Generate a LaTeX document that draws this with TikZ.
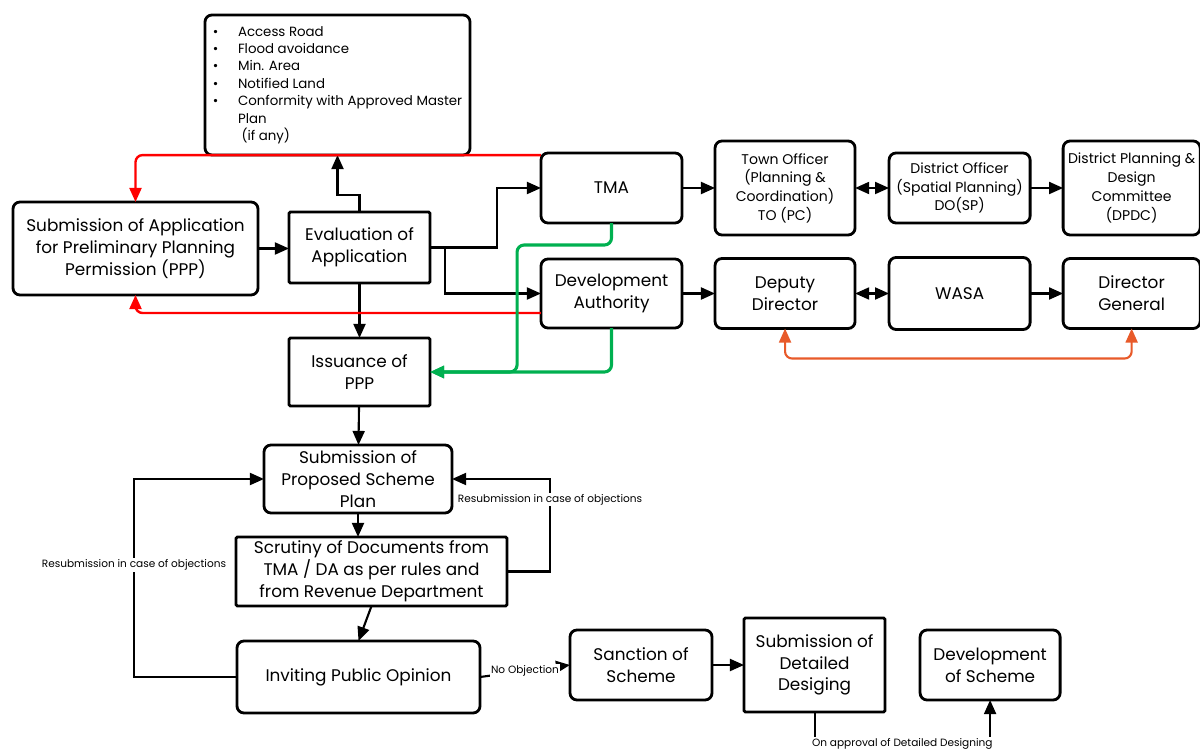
\documentclass[tikz,border=0pt]{standalone}
\usepackage{fontspec}
\setmainfont{Poppins}
\usetikzlibrary{positioning}
\usetikzlibrary{arrows.meta}
\definecolor{linered}{HTML}{FF0000}
\definecolor{linegreen}{HTML}{00B050}
\definecolor{lineorange}{HTML}{E85A2A}

\begin{document}
\begin{tikzpicture}[x=0.025cm, y=-0.025cm,
    box/.style={draw, line width=2pt, rounded corners=5pt, align=center,
      inner sep=1pt, outer sep=0pt, font=\fontsize{12}{15.5}\selectfont},
    sqbox/.style={box, rounded corners=1pt},
    small/.style={font=\fontsize{10}{13.3}\selectfont},
    flow/.style={line width=1.5pt, -{Triangle[length=10pt, width=8.5pt]}},
    dflow/.style={line width=1.5pt, {Triangle[length=10pt, width=8.5pt]}-{Triangle[length=10pt, width=8.5pt]}},
    redflow/.style={flow, linered, line width=1.7pt, rounded corners=5pt},
    greenflow/.style={flow, linegreen, line width=2.2pt, rounded corners=5pt},
    orangeflow/.style={dflow, lineorange, rounded corners=5pt},
    lbl/.style={fill=white, inner sep=1pt, font=\fontsize{7.5}{9}\selectfont}]
    \useasboundingbox (0,0) rectangle (1200,753);

    \node[box, minimum width=6.625cm, minimum height=3.5cm, font=\fontsize{9.5}{12.4}\selectfont] (crit) at (337.5,85) {%
      \begin{tabular}{@{}l@{\hspace{14pt}}l@{}}
        \textbullet & Access Road\\
        \textbullet & Flood avoidance\\
        \textbullet & Min. Area\\
        \textbullet & Notified Land\\
        \textbullet & Conformity with Approved Master\\
                    & Plan\\
                    & \ (if any)
      \end{tabular}};
    \node[box, minimum width=6.125cm, minimum height=2.325cm] (app) at (135.5,248.5) {Submission of Application\\for Preliminary Planning\\Permission (PPP)};
    \node[sqbox, minimum width=3.525cm, minimum height=1.775cm] (eval) at (359.5,247.5) {Evaluation of\\Application};
    \node[box, minimum width=3.525cm, minimum height=1.75cm] (tma) at (611.5,188) {TMA};
    \node[box, minimum width=3.525cm, minimum height=1.725cm] (da) at (611.5,293.5) {Development\\Authority};
    \node[box, small, minimum width=3.5cm, minimum height=2.35cm, right=0.825cm of tma] (to) {Town Officer\\(Planning \&\\Coordination)\\TO (PC)};
    \node[box, small, minimum width=3.525cm, minimum height=1.75cm, right=0.85cm of to] (dosp) {District Officer\\(Spatial Planning)\\DO(SP)};
    \node[box, small, minimum width=3.425cm, minimum height=2.35cm, right=0.825cm of dosp] (dpdc) {District Planning \&\\Design\\Committee\\(DPDC)};
    \node[box, minimum width=3.5cm, minimum height=1.75cm, right=0.825cm of da] (dd) {Deputy\\Director};
    \node[box, minimum width=3.525cm, minimum height=1.8cm, right=0.85cm of dd] (wasa) {WASA};
    \node[box, minimum width=3.425cm, minimum height=1.75cm, right=0.825cm of wasa] (dg) {Director\\General};
    \node[sqbox, minimum width=3.525cm, minimum height=1.7cm] (iss) at (359.5,372) {Issuance of\\PPP};
    \node[box, minimum width=4.7cm, minimum height=1.7cm] (spsp) at (358,479) {Submission of\\Proposed Scheme\\Plan};
    \node[sqbox, minimum width=6.775cm, minimum height=1.725cm] (scr) at (371.5,571.5) {Scrutiny of Documents from\\TMA / DA as per rules and\\from Revenue Department};
    \node[box, minimum width=6.075cm, minimum height=1.8cm] (ipo) at (358.5,677) {Inviting Public Opinion};
    \node[box, minimum width=3.55cm, minimum height=1.75cm] (sanc) at (641,665) {Sanction of\\Scheme};
    \node[sqbox, minimum width=3.525cm, minimum height=2.35cm, right=0.8cm of sanc] (sdd) {Submission of\\Detailed\\Desiging};
    \node[box, minimum width=3.5cm, minimum height=1.75cm, right=0.875cm of sdd] (devs) {Development\\of Scheme};

    % Connect the nodes
    \draw[flow] (app.east) -- (app.east -| eval.west);
    \draw[flow] (eval.north) -- ++(0,-17) -| (crit.south);
    \draw[flow] (eval.east) -- ++(67,0) |- (tma.west);
    \draw[flow] (eval.east) -- ++(15,0) |- (da.west);
    \draw[flow] (eval) -- (iss);
    \draw[redflow] ([yshift=-1.5pt]tma.north west) -| (app.north);
    \draw[redflow] ([yshift=0.375cm]da.south west) -| (app.south);
    \draw[greenflow] (tma.south) -- ++(0,22) -| ([xshift=2.175cm]iss.east) -- (iss.east);
    \draw[greenflow] (da.south) |- (iss.east);
    \draw[flow] (tma) -- (to);
    \draw[dflow] (to) -- (dosp);
    \draw[flow] (dosp) -- (dpdc);
    \draw[flow] (da) -- (dd);
    \draw[dflow] (dd) -- (wasa);
    \draw[flow] (wasa) -- (dg);
    \draw[orangeflow] (dd.south) -- ++(0,30) -| (dg.south);
    \draw[flow] (iss) -- (spsp);
    \draw[flow] (spsp.south) -- (spsp.south |- scr.north);
    \draw[flow] (scr.south) -- (ipo.north);
    \draw[flow] (scr.east) -- ++(43,0) |- (spsp.east)
      node[lbl, pos=0.39] {Resubmission in case of objections};
    \draw[flow] (ipo.west) -- ++(-103,0) |- (spsp.west)
      node[lbl, pos=0.283] {Resubmission in case of objections};
    \draw[flow] (ipo.east) -- (sanc.west) node[lbl, midway] {No Objection};
    \draw[flow] (sanc) -- (sdd);
    \draw[flow] (sdd.south) -- ++(0,32) -| (devs.south)
      node[lbl, pos=0.25] {On approval of Detailed Designing};
  \end{tikzpicture}
\end{document}
